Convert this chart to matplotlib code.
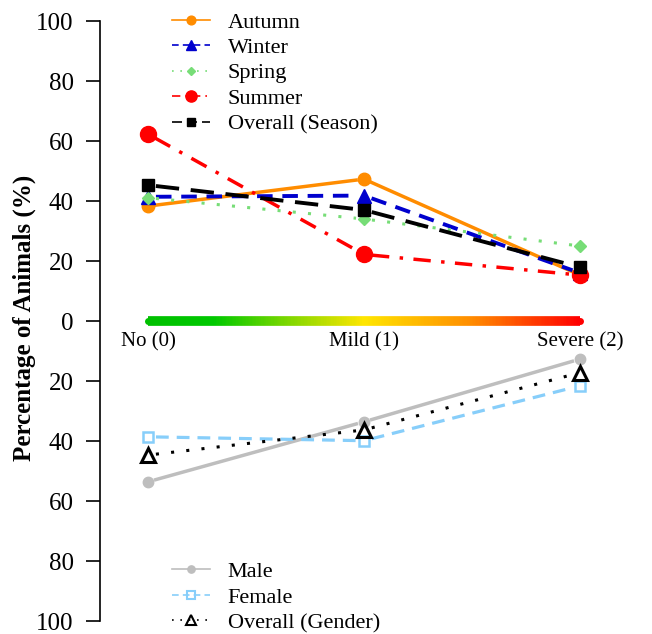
import numpy as np
import matplotlib.pyplot as plt
from matplotlib.colors import LinearSegmentedColormap
from matplotlib.collections import LineCollection
from matplotlib.lines import Line2D

plt.rcParams['font.family'] = ['Liberation Serif', 'DejaVu Serif']

severity = ["No (0)", "Mild (1)", "Severe (2)"]

# season (upper half)
autumn = [38.3, 47.3, 15.3]
winter = [41.4, 41.8, 16.0]
spring = [41.1, 34.0, 25.0]
summer = [62.3, 22.2, 15.3]
overall_season = [45.3, 37.0, 17.9]

# gender (lower half, drawn downwards)
male = [53.6, 33.6, 12.7]
female = [38.6, 39.9, 21.6]
overall_gender = [44.7, 36.3, 17.2]

yticks = [100, 80, 60, 40, 20, 0, -20, -40, -60, -80, -100]

fig = plt.figure(figsize=(6.52, 6.34), dpi=100)
ax = fig.add_axes([100/652, 13/634, 528/652, 600/634])
ax.set_xlim(-0.222, 2.222)
ax.set_ylim(-100, 100)
x = np.arange(len(severity))


def gapped(ax, xs, ys, gap=8, **kw):
    # R type="b": line segments stop short of the points
    pts = ax.transData.transform(np.column_stack([xs, ys]))
    inv = ax.transData.inverted()
    for p0, p1 in zip(pts[:-1], pts[1:]):
        d = p1 - p0
        L = np.hypot(*d)
        if L <= 2 * gap:
            continue
        u = d / L
        a = inv.transform(p0 + u * gap)
        b = inv.transform(p1 - u * gap)
        ax.plot([a[0], b[0]], [a[1], b[1]], **kw)


series = [
    (autumn, 'Autumn', dict(color='#FF8C00', ls='-', lw=2.5), dict(marker='o', ms=9, mfc='#FF8C00', mec='#FF8C00')),
    (winter, 'Winter', dict(color='#0000CD', ls=(0, (4, 2.5)), lw=2.8), dict(marker='^', ms=10, mfc='#0000CD', mec='#0000CD')),
    (spring, 'Spring', dict(color='#77DD77', ls=(0, (1, 4)), lw=2.2), dict(marker='D', ms=6.5, mfc='#77DD77', mec='#77DD77')),
    (summer, 'Summer', dict(color='#FF0000', ls=(0, (5, 3, 1, 3)), lw=2.5), dict(marker='o', ms=11.5, mfc='#FF0000', mec='#FF0000')),
    (overall_season, 'Overall (Season)', dict(color='black', ls=(0, (6, 3)), lw=2.8), dict(marker='s', ms=8, mfc='black', mec='black')),
]
gseries = [
    (male, 'Male', dict(color='#BEBEBE', ls='-', lw=2.5), dict(marker='o', ms=7.5, mfc='#BEBEBE', mec='#BEBEBE')),
    (female, 'Female', dict(color='#87CEFA', ls=(0, (4, 2.5)), lw=2.3), dict(marker='s', ms=7.5, mfc='none', mec='#87CEFA', mew=1.8)),
    (overall_gender, 'Overall (Gender)', dict(color='black', ls=(0, (1, 4)), lw=2.2), dict(marker='^', ms=10, mfc='none', mec='black', mew=2.2)),
]

h1 = []
for vals, lab, lk, mk in series:
    gapped(ax, x, vals, **lk)
    ax.plot(x, vals, ls='none', zorder=3, **mk)
    h1.append(Line2D([], [], label=lab, color=lk['color'], ls=lk['ls'], lw=1.2,
                     marker=mk['marker'], ms=mk['ms'] * 0.7, mfc=mk['mfc'], mec=mk['mec']))

h2 = []
for vals, lab, lk, mk in gseries:
    yv = -np.array(vals)
    gapped(ax, x, yv, **lk)
    ax.plot(x, yv, ls='none', zorder=3, **mk)
    h2.append(Line2D([], [], label=lab, color=lk['color'], ls=lk['ls'], lw=1.2,
                     marker=mk['marker'], ms=mk['ms'] * 0.7, mfc=mk['mfc'], mec=mk['mec'],
                     mew=1.5 if mk['mfc'] == 'none' else 1))

# severity colour bar at 0
cmap = LinearSegmentedColormap.from_list('sev', [(0, '#00C000'), (0.15, '#00C800'),
                                                 (0.5, '#FFE600'), (0.75, '#FF8C00'), (1, '#FF0000')])
bx = np.linspace(x[0], x[-1], 300)
segs = [[(bx[i], 0), (bx[i + 1], 0)] for i in range(len(bx) - 1)]
lc = LineCollection(segs, colors=cmap(np.linspace(0, 1, len(segs))), linewidths=7, capstyle='butt')
ax.add_collection(lc)
ax.plot([bx[0]], [0], 'o', ms=5, color=cmap(0.0), mec='none')
ax.plot([bx[-1]], [0], 'o', ms=5, color=cmap(1.0), mec='none')

for xi, lab in zip(x, severity):
    ax.text(xi, -7, lab, ha='center', va='center', fontsize=15)

ax.set_yticks(yticks)
ax.set_yticklabels([str(abs(v)) for v in yticks], fontsize=18)
ax.tick_params(axis='y', length=10, width=1.2, pad=9)
ax.set_xticks([])
for s in ['top', 'right', 'bottom']:
    ax.spines[s].set_visible(False)
ax.spines['left'].set_linewidth(1.2)
fig.text(24/652, 1 - 318/634, 'Percentage of Animals (%)', rotation=90,
         ha='center', va='center', fontsize=18, fontweight='bold')

leg_kw = dict(bbox_transform=fig.transFigure, frameon=False, fontsize=16,
              handlelength=1.7, handletextpad=0.8, labelspacing=0.22,
              borderpad=0, borderaxespad=0)
leg1 = ax.legend(handles=h1, loc='upper left', bbox_to_anchor=(172/652, 1 - 12/634), **leg_kw)
ax.add_artist(leg1)
ax.legend(handles=h2, loc='lower left', bbox_to_anchor=(172/652, 1/634), **leg_kw)

fig.savefig('out.png', dpi=100)
